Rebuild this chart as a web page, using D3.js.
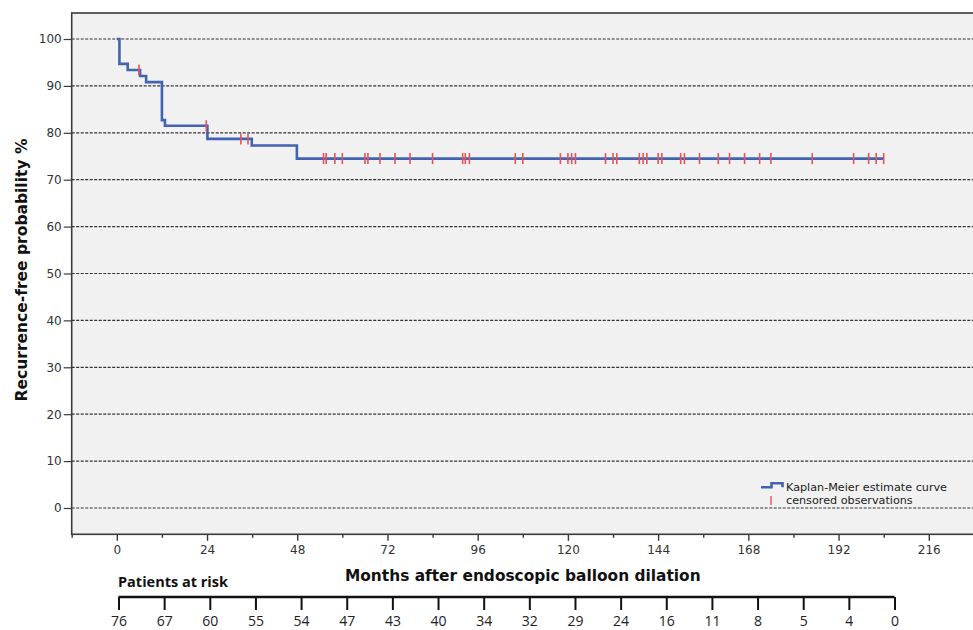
<!DOCTYPE html>
<html>
<head>
<meta charset="utf-8">
<script src="https://cdn.jsdelivr.net/npm/d3@7"></script>
<style>
  html, body { margin: 0; padding: 0; background: #ffffff; }
  svg { display: block; }
</style>
</head>
<body>
<svg id="chart" width="973" height="630"></svg>
<script>
// ---- data ----
const stepMonths   = [0, 0.7, 2.9, 6.2, 7.8, 12.0, 12.8, 24.1, 35.9, 47.9, 204];
const stepSurvival = [100, 94.7, 93.4, 92.1, 90.8, 82.7, 81.5, 78.7, 77.3, 74.5, 74.5];
const censoredMonths = [5.9, 23.8, 33.0, 34.9,
  55, 55.7, 58, 60, 66, 66.8, 70, 74, 78, 84, 92, 92.7, 93.8, 106, 108,
  118, 120, 121, 122, 130, 132, 133, 139, 140, 141, 144, 145, 150, 151,
  155, 160, 163, 167, 171, 174, 185, 196, 200, 202, 204];
const xTickValues = d3.range(-12, 229, 12);
const xLabelValues = [0, 24, 48, 72, 96, 120, 144, 168, 192, 216];
const yTickValues = [0, 10, 20, 30, 40, 50, 60, 70, 80, 90, 100];
const riskMonths = d3.range(0, 205, 12);
const riskCounts = [76, 67, 60, 55, 54, 47, 43, 40, 34, 32, 29, 24, 16, 11, 8, 5, 4, 0];
const legendLabels = ["Kaplan-Meier estimate curve", "censored observations"];
const yTitle = "Recurrence-free probability %";
const xTitle = "Months after endoscopic balloon dilation";
const riskTitle = "Patients at risk";

// ---- layout ----
const svg = d3.select("#chart");
const frame = { left: 71.7, right: 973.9, top: 13, bottom: 534.3 };
const x = d3.scaleLinear().domain([-12, 228]).range([frame.left, frame.right]);
const y = d3.scaleLinear().domain([0, 100]).range([508, 39]);
const xRisk = d3.scaleLinear().domain([0, 204]).range([118.5, 894.5]);

const blue = "#4262b2";
const red = "#e4525a";
const axisColor = "#3a3a3a";
const tickFont = "DejaVu Sans, sans-serif";

// plot background
svg.append("rect")
  .attr("x", frame.left).attr("y", frame.top)
  .attr("width", frame.right - frame.left).attr("height", frame.bottom - frame.top)
  .attr("fill", "#f1f1f1");

// gridlines
svg.append("g").selectAll("line").data(yTickValues).join("line")
  .attr("x1", frame.left).attr("x2", frame.right)
  .attr("y1", d => y(d)).attr("y2", d => y(d))
  .attr("stroke", "#333").attr("stroke-width", 1.2)
  .attr("stroke-dasharray", "3,1.5");

// frame
svg.append("rect")
  .attr("x", frame.left).attr("y", frame.top)
  .attr("width", frame.right - frame.left).attr("height", frame.bottom - frame.top)
  .attr("fill", "none").attr("stroke", axisColor).attr("stroke-width", 1.6);

// y axis
const yAxis = d3.axisLeft(y).tickValues(yTickValues).tickSize(8).tickPadding(2).tickFormat(d3.format("d"));
const gy = svg.append("g").attr("transform", `translate(${frame.left},0)`).call(yAxis);
gy.select(".domain").remove();
gy.selectAll(".tick line").attr("stroke", axisColor).attr("stroke-width", 1.2);
gy.selectAll(".tick text").attr("fill", "#333").style("font-family", tickFont).style("font-size", "12px");

// x axis
const xAxis = d3.axisBottom(x).tickValues(xTickValues)
  .tickSize(0).tickFormat(d => xLabelValues.includes(d) ? d : "");
const gx = svg.append("g").attr("transform", `translate(0,${frame.bottom})`).call(xAxis);
gx.select(".domain").remove();
gx.selectAll(".tick line")
  .attr("y2", d => xLabelValues.includes(d) ? 6.5 : 3.5)
  .attr("stroke", axisColor).attr("stroke-width", 1.4);
gx.selectAll(".tick text").attr("y", 11).attr("fill", "#333")
  .style("font-family", tickFont).style("font-size", "12px");

// KM curve
const pts = stepMonths.map((m, i) => [m, stepSurvival[i]]);
svg.append("path").datum(pts)
  .attr("d", d3.line().x(d => x(d[0])).y(d => y(d[1])).curve(d3.curveStepAfter))
  .attr("fill", "none").attr("stroke", blue).attr("stroke-width", 2.6)
  .attr("stroke-linejoin", "miter");

// censor marks
const survAt = t => stepSurvival[d3.bisectRight(stepMonths, t) - 1];
svg.append("g").selectAll("line").data(censoredMonths).join("line")
  .attr("x1", d => x(d)).attr("x2", d => x(d))
  .attr("y1", d => y(survAt(d)) - 5.5).attr("y2", d => y(survAt(d)) + 5.5)
  .attr("stroke", red).attr("stroke-width", 1.6);

// legend
const lg = svg.append("g");
lg.append("path").attr("d", "M761,487.3 H771.5 V483.3 H782.5 V487.3")
  .attr("fill", "none").attr("stroke", blue).attr("stroke-width", 2.6);
lg.append("line").attr("x1", 771).attr("x2", 771).attr("y1", 496).attr("y2", 505)
  .attr("stroke", red).attr("stroke-width", 1.4);
lg.selectAll("text").data(legendLabels).join("text")
  .attr("x", 786).attr("y", (d, i) => 490.5 + i * 13.8)
  .attr("fill", "#222").style("font-family", tickFont).style("font-size", "11.2px")
  .text(d => d);

// axis titles
svg.append("text")
  .attr("transform", `translate(21.5,270) rotate(-90)`)
  .attr("text-anchor", "middle").attr("dominant-baseline", "central")
  .attr("fill", "#111").style("font-family", tickFont).style("font-weight", "bold").style("font-size", "15.5px")
  .text(yTitle);
svg.append("text")
  .attr("x", (frame.left + frame.right) / 2).attr("y", 581)
  .attr("text-anchor", "middle")
  .attr("fill", "#111").style("font-family", tickFont).style("font-weight", "bold").style("font-size", "15.4px")
  .text(xTitle);

// patients at risk table
svg.append("text").attr("x", 118).attr("y", 587)
  .attr("fill", "#111").style("font-family", "Open Sans, sans-serif").style("font-weight", "bold").style("font-size", "14.5px")
  .text(riskTitle);
const riskAxis = d3.axisBottom(xRisk).tickValues(riskMonths).tickSize(13).tickFormat((d, i) => riskCounts[i]);
const gr = svg.append("g").attr("transform", "translate(0,597)").call(riskAxis);
gr.select(".domain").attr("d", `M${xRisk(0)},0H${xRisk(204)}`).attr("stroke", "#111").attr("stroke-width", 2.6);
gr.selectAll(".tick line").attr("stroke", "#111").attr("stroke-width", 2);
gr.selectAll(".tick text").attr("y", 19).attr("fill", "#222")
  .style("font-family", "Open Sans, sans-serif").style("font-size", "14px");
</script>
</body>
</html>
